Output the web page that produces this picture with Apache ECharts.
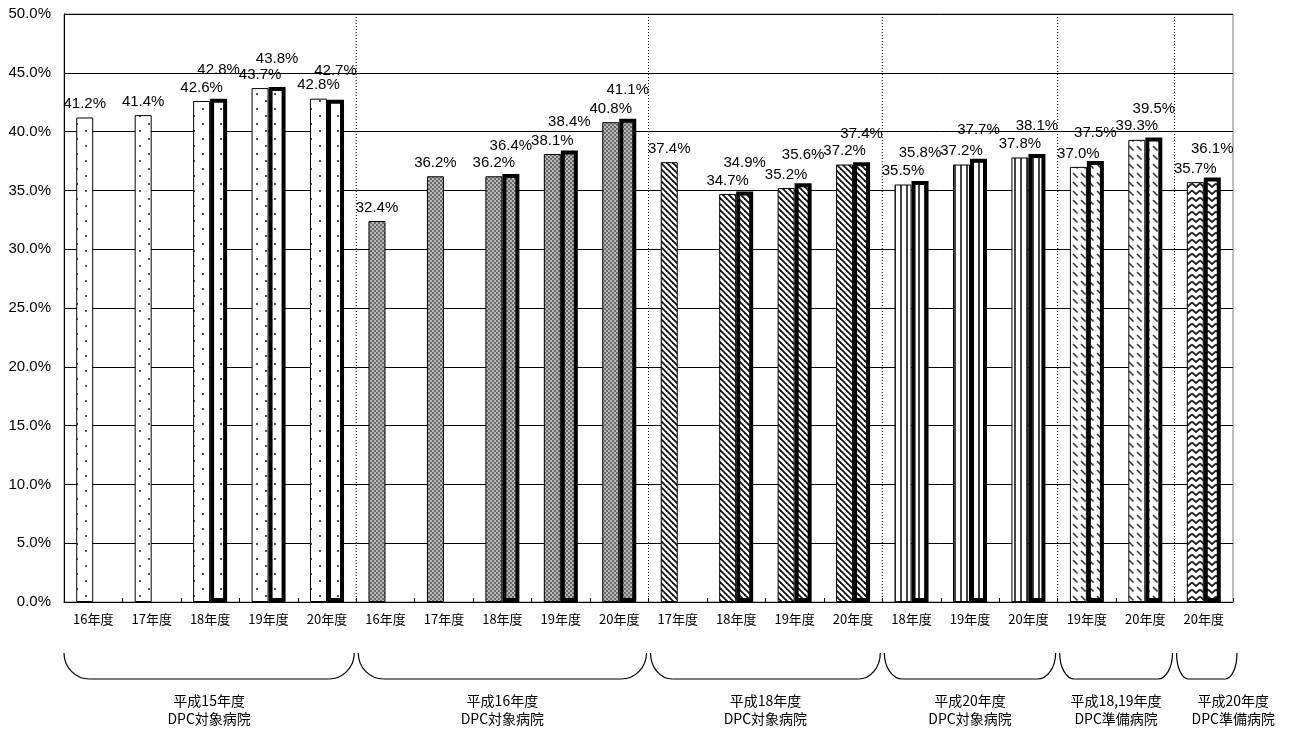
<!DOCTYPE html>
<html><head><meta charset="utf-8">
<script src="https://cdn.jsdelivr.net/npm/echarts@6/dist/echarts.min.js"></script>
<style>html,body{margin:0;padding:0;background:#fff}#c{width:1298px;height:731px}</style>
</head><body><div id="c"></div>
<script>
const categories = ['16年度','17年度','18年度','19年度','20年度',
  '16年度','17年度','18年度','19年度','20年度',
  '17年度','18年度','19年度','20年度',
  '18年度','19年度','20年度',
  '19年度','20年度',
  '20年度'];
const leftValues  = [41.2, 41.4, 42.6, 43.7, 42.8, 32.4, 36.2, 36.2, 38.1, 40.8, 37.4, 34.7, 35.2, 37.2, 35.5, 37.2, 37.8, 37.0, 39.3, 35.7];
const rightValues = [null, null, 42.8, 43.8, 42.7, null, null, 36.4, 38.4, 41.1, null, 34.9, 35.6, 37.4, 35.8, 37.7, 38.1, 37.5, 39.5, 36.1];
const groupNames = ['平成15年度\nDPC対象病院','平成16年度\nDPC対象病院','平成18年度\nDPC対象病院','平成20年度\nDPC対象病院','平成18,19年度\nDPC準備病院','平成20年度\nDPC準備病院'];
const groupSizes = [5, 5, 4, 3, 2, 1];
const yMin = 0, yMax = 50, yStep = 5;

function pattern(kind){
  const c = document.createElement('canvas');
  let w = 8, h = 8;
  if (kind === 'dots') { w = 18; h = 15; }
  if (kind === 'checker') { w = 4; h = 4; }
  if (kind === 'diag') { w = 6; h = 6; }
  if (kind === 'vert') { w = 6; h = 2; }
  if (kind === 'dash') { w = 8; h = 9; }
  if (kind === 'chev') { w = 8; h = 7; }
  c.width = w; c.height = h;
  const g = c.getContext('2d');
  g.fillStyle = '#fff'; g.fillRect(0,0,w,h);
  if (kind === 'dots') {
    g.fillStyle = '#555';
    g.fillRect(4,3,2,2); g.fillRect(13,10,2,2);
  } else if (kind === 'checker') {
    g.fillStyle = '#b8b8b8'; g.fillRect(0,0,4,4);
    g.fillStyle = '#6a6a6a'; g.fillRect(0,0,2,2); g.fillRect(2,2,2,2);
  } else if (kind === 'diag') {
    g.strokeStyle = '#111'; g.lineWidth = 1.8;
    for (let k=-1;k<=1;k++){ g.beginPath(); g.moveTo(k*w-1,-1); g.lineTo(k*w+w+1,h+1); g.stroke(); }
  } else if (kind === 'vert') {
    g.fillStyle = '#444'; g.fillRect(0,0,2,h);
  } else if (kind === 'dash') {
    g.strokeStyle = '#333'; g.lineWidth = 1.6;
    g.beginPath(); g.moveTo(1,2); g.lineTo(5.5,6.5); g.stroke();
  } else if (kind === 'chev') {
    g.strokeStyle = '#222'; g.lineWidth = 1.7;
    g.beginPath(); g.moveTo(0,1.5); g.lineTo(4,5); g.lineTo(8,1.5); g.stroke();
  }
  return { image: c, repeat: 'repeat' };
}
const kinds = ['dots','checker','diag','vert','dash','chev'];
const fills = kinds.map(pattern);
const groupOf = [];
groupSizes.forEach((n,gi)=>{ for(let k=0;k<n;k++) groupOf.push(gi); });

const numFont = '"Liberation Sans", Arial, sans-serif';
const jpFont = '"Noto Sans CJK JP", sans-serif';
const pct = p => (typeof p.value === 'number') ? p.value.toFixed(1) + '%' : '';

function items(vals){
  return vals.map((v,i)=> v == null ? '-' : ({ value: v, itemStyle: { color: fills[groupOf[i]] } }));
}

const chart = echarts.init(document.getElementById('c'), null, {renderer:'canvas'});
chart.setOption({
  animation: false,
  backgroundColor: '#fff',
  grid: { left: 64, right: 65, top: 14, bottom: 129, show: true, borderColor: '#7f7f7f', borderWidth: 1, containLabel: false },
  xAxis: {
    type: 'category', data: categories,
    axisLine: { lineStyle: { color: '#000', width: 1 } },
    axisTick: { show: true, inside: true, length: 4, lineStyle: { color: '#000' } },
    axisLabel: { interval: 0, fontSize: 13, color: '#000', margin: 11, fontFamily: jpFont },
    splitLine: { show: false }
  },
  yAxis: {
    type: 'value', min: yMin, max: yMax, interval: yStep,
    axisLine: { show: true, lineStyle: { color: '#000', width: 1 } },
    axisTick: { show: false },
    axisLabel: { fontSize: 15, color: '#000', margin: 13, fontFamily: numFont, formatter: v => v.toFixed(1) + '%' },
    splitLine: { show: true, lineStyle: { color: '#000', width: 1 } }
  },
  series: [
    { type: 'bar', name: 'a', data: items(leftValues), barWidth: 17, barGap: '0%',
      itemStyle: { borderColor: '#000', borderWidth: 1 },
      label: { show: true, position: 'top', distance: 6, formatter: pct, fontSize: 15, color: '#000', fontFamily: numFont } },
    { type: 'bar', name: 'b', data: items(rightValues), barWidth: 17, barGap: '0%',
      itemStyle: { borderColor: '#000', borderWidth: 4 },
      label: { show: true, position: 'top', distance: 21, formatter: pct, fontSize: 15, color: '#000', fontFamily: numFont } }
  ]
});

// annotations derived from axis scales
const c0 = chart.convertToPixel({xAxisIndex:0}, 0);
const c1 = chart.convertToPixel({xAxisIndex:0}, 1);
const band = c1 - c0;
const bx = i => c0 - band/2 + i*band;
const yTop = chart.convertToPixel({yAxisIndex:0}, yMax);
const yBot = chart.convertToPixel({yAxisIndex:0}, yMin);
const groupFont = '14px "Noto Sans CJK JP", sans-serif';
const meas = document.createElement('canvas').getContext('2d');
meas.font = groupFont;
const graphics = [];
let start = 0, prevRight = -Infinity;
const braceTop = yBot + 51, braceBot = yBot + 77;
const braceStyle = { stroke: '#000', lineWidth: 1.2, fill: null };
groupSizes.forEach((n, gi) => {
  const end = start + n;
  if (end < categories.length) {
    graphics.push({ type: 'line', silent: true, z: 50,
      shape: { x1: bx(end), y1: yTop, x2: bx(end), y2: yBot },
      style: { stroke: '#000', lineWidth: 1, lineDash: [1, 2] } });
  }
  const xs = bx(start) + (gi === 0 ? 0 : 2);
  const xe = bx(end) + (end === categories.length ? 4 : -2);
  const w = xe - xs;
  const r = Math.min(28, 8 + w * 0.06);
  const dy = braceBot - braceTop;
  graphics.push({ type: 'bezierCurve', silent: true,
    shape: { x1: xs, y1: braceTop, cpx1: xs, cpy1: braceTop + dy*0.55, cpx2: xs + r*0.45, cpy2: braceBot, x2: xs + r, y2: braceBot },
    style: braceStyle });
  graphics.push({ type: 'line', silent: true,
    shape: { x1: xs + r, y1: braceBot, x2: xe - r, y2: braceBot }, style: braceStyle });
  graphics.push({ type: 'bezierCurve', silent: true,
    shape: { x1: xe - r, y1: braceBot, cpx1: xe - r*0.45, cpy1: braceBot, cpx2: xe, cpy2: braceTop + dy*0.55, x2: xe, y2: braceTop },
    style: braceStyle });
  const half = Math.max(...groupNames[gi].split('\n').map(s => meas.measureText(s).width)) / 2;
  const cx = Math.max((xs + xe) / 2, prevRight + 30 + half);
  prevRight = cx + half;
  graphics.push({ type: 'text', silent: true, x: cx, y: braceBot + 13,
    style: { text: groupNames[gi], align: 'center', verticalAlign: 'top',
      font: groupFont, fill: '#000', lineHeight: 18 } });
  start = end;
});
chart.setOption({ graphic: graphics });
</script></body></html>
